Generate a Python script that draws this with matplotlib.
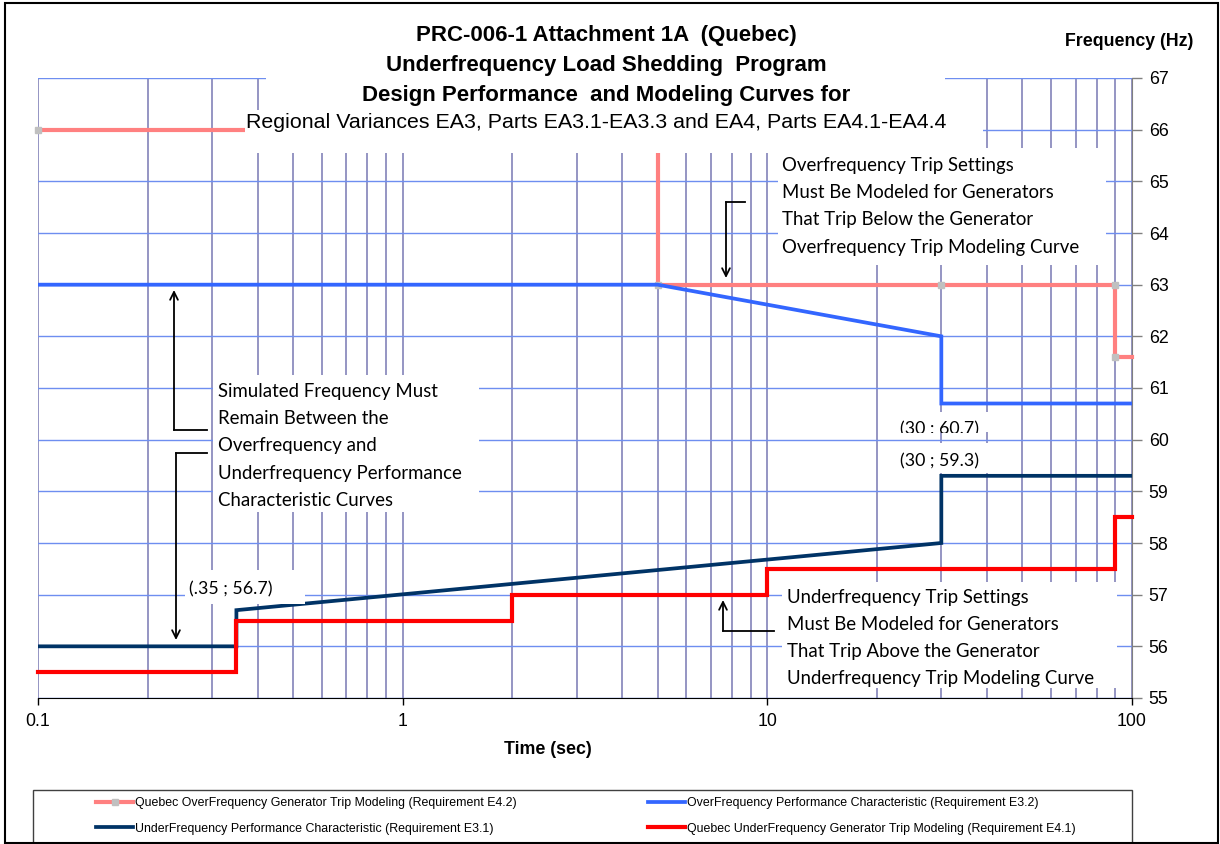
import matplotlib
matplotlib.use('Agg')
import matplotlib.pyplot as plt
from matplotlib.lines import Line2D
from matplotlib.patches import Rectangle, FancyArrowPatch
from matplotlib.transforms import Bbox, TransformedBbox

# series (time in sec, frequency in Hz)
of_trip_t = [0.1, 5, 5, 30, 90, 90, 100]
of_trip_f = [66, 66, 63, 63, 63, 61.6, 61.6]

of_perf_t = [0.1, 5, 30, 30, 100]
of_perf_f = [63, 63, 62, 60.7, 60.7]

uf_perf_t = [0.1, 0.35, 0.35, 30, 30, 100]
uf_perf_f = [56, 56, 56.7, 58, 59.3, 59.3]

uf_trip_t = [0.1, 0.35, 0.35, 2, 2, 10, 10, 90, 90, 100]
uf_trip_f = [55.5, 55.5, 56.5, 56.5, 57, 57, 57.5, 57.5, 58.5, 58.5]

x_ticks = [0.1, 1, 10, 100]
x_labels = ['0.1', '1', '10', '100']
y_ticks = list(range(55, 68))

labels = ['Quebec OverFrequency Generator Trip Modeling (Requirement E4.2)',
          'OverFrequency Performance Characteristic (Requirement E3.2)',
          'UnderFrequency Performance Characteristic (Requirement E3.1)',
          'Quebec UnderFrequency Generator Trip Modeling (Requirement E4.1)']

W, H = 1220, 844
ARIAL = 'Liberation Sans'
CALIBRI = 'Lato'


def fx(x):
    return x / W


def fy(y):
    return 1 - y / H


fig = plt.figure(figsize=(W / 100, H / 100), dpi=100)
ax = fig.add_axes([fx(38), fy(698), (1132 - 38) / W, (698 - 78) / H])

ax.plot(of_trip_t, of_trip_f, color='#FF8080', lw=3, marker='s', ms=4.5,
        mfc='#C0C0C0', mec='#C0C0C0', markevery=[0, 2, 3, 4, 5],
        solid_joinstyle='miter', clip_on=False, zorder=3)
ax.plot(of_perf_t, of_perf_f, color='#3366FF', lw=2.7, solid_joinstyle='miter', zorder=3)
ax.plot(uf_perf_t, uf_perf_f, color='#003366', lw=2.7, solid_joinstyle='miter', zorder=3)
ax.plot(uf_trip_t, uf_trip_f, color='#FF0000', lw=3, solid_joinstyle='miter',
        clip_on=False, zorder=3)

ax.set_xscale('log')
ax.set_xlim(0.1, 100)
ax.set_ylim(55, 67)
ax.set_xticks(x_ticks)
ax.set_xticklabels(x_labels, fontsize=12.8, fontfamily=ARIAL)
ax.set_yticks(y_ticks)
ax.set_yticklabels([str(v) for v in y_ticks], fontsize=12.8, fontfamily=ARIAL)
ax.yaxis.tick_right()
ax.tick_params(axis='y', direction='out', length=7, width=1, color='#808080', pad=5)
ax.tick_params(axis='x', which='major', direction='out', length=5, width=1, color='black', pad=6)
ax.tick_params(axis='x', which='minor', length=0)
ax.xaxis.set_minor_formatter(plt.NullFormatter())
ax.grid(axis='x', which='both', color='#8C8CBE', lw=1.3)
ax.grid(axis='y', which='major', color='#6E8EF0', lw=1.0)
ax.set_axisbelow(True)
for side in ['left', 'top']:
    ax.spines[side].set_visible(False)
ax.spines['right'].set_color('#808080')
ax.spines['bottom'].set_color('black')


def white_box(x0, y0, x1, y1):
    fig.patches.append(Rectangle((fx(x0), fy(y1)), (x1 - x0) / W, (y1 - y0) / H,
                                 transform=fig.transFigure, facecolor='white',
                                 edgecolor='none', zorder=1))


def label(s, x, y, clip=None, **kw):
    t = fig.text(fx(x), fy(y), s, va='center', zorder=3, **kw)
    if clip:
        x0, y0, x1, y1 = clip
        t.set_clip_box(TransformedBbox(Bbox.from_extents(fx(x0), fy(y1), fx(x1), fy(y0)),
                                       fig.transFigure))
        t.set_clip_on(True)
    return t


def elbow_arrow(x0, y0, xc, yc, x1, y1):
    fig.add_artist(Line2D([fx(x0), fx(xc)], [fy(y0), fy(yc)], color='black', lw=1.3,
                          transform=fig.transFigure, zorder=2))
    fig.add_artist(FancyArrowPatch((fx(xc), fy(yc)), (fx(x1), fy(y1)), arrowstyle='->',
                                   mutation_scale=14, lw=1.3, color='black',
                                   shrinkA=0, shrinkB=0, transform=fig.transFigure,
                                   zorder=2))


# title block (white background hides the grid behind it)
white_box(266, 8, 945, 110)
white_box(245, 110, 983, 153)
title_lines = ['PRC-006-1 Attachment 1A  (Quebec)',
               'Underfrequency Load Shedding  Program',
               'Design Performance  and Modeling Curves for']
for s, y in zip(title_lines, [36, 65, 95]):
    label(s, 606, y, ha='center', fontsize=16, fontweight='bold', fontfamily=ARIAL)
label('Regional Variances EA3, Parts EA3.1-EA3.3 and EA4, Parts EA4.1-EA4.4', 596, 123,
      ha='center', fontsize=15.4, fontfamily=ARIAL)

label('Frequency (Hz)', 1129, 42, ha='center', fontsize=12.8, fontweight='bold', fontfamily=ARIAL)
label('Time (sec)', 548, 750, ha='center', fontsize=12.8, fontweight='bold', fontfamily=ARIAL)

# note boxes
notes = [
    ((778, 148, 1106, 265), 782, 166, 27,
     ['Overfrequency Trip Settings', 'Must Be Modeled for Generators',
      'That Trip Below the Generator', 'Overfrequency Trip Modeling Curve']),
    ((213, 375, 479, 512), 218, 392, 27,
     ['Simulated Frequency Must', 'Remain Between the', 'Overfrequency and',
      'Underfrequency Performance', 'Characteristic Curves']),
    ((782, 582, 1117, 688), 787, 598, 26.7,
     ['Underfrequency Trip Settings', 'Must Be Modeled for Generators',
      'That Trip Above the Generator', 'Underfrequency Trip Modeling Curve']),
]
for box, x, y, step, lines in notes:
    white_box(*box)
    for i, s in enumerate(lines):
        label(s, x, y + i * step, ha='left', fontsize=13.4, fontfamily=CALIBRI)

elbow_arrow(745, 202, 726, 202, 726, 278)
elbow_arrow(207, 430, 174, 430, 174, 290)
elbow_arrow(207, 453, 176, 453, 176, 640)
elbow_arrow(774, 631, 723, 631, 723, 600)

# point labels
white_box(185, 570, 305, 604)
label('(.35 ; 56.7)', 231, 589, ha='center', fontsize=12.8, fontfamily=CALIBRI)
white_box(890, 412, 992, 432)
label('(30 ; 60.7)', 939, 429, clip=(890, 412, 992, 433), ha='center', fontsize=12.8,
      fontfamily=CALIBRI)
white_box(890, 443, 992, 473)
label('(30 ; 59.3)', 939, 461, ha='center', fontsize=12.8, fontfamily=CALIBRI)

# legend
handles = [Line2D([], [], color='#FF8080', lw=3, marker='s', ms=4.5, mfc='#C0C0C0', mec='#C0C0C0'),
           Line2D([], [], color='#3366FF', lw=2.7),
           Line2D([], [], color='#003366', lw=2.7),
           Line2D([], [], color='#FF0000', lw=3)]
fig.patches.append(Rectangle((fx(33), fy(843)), (1132 - 33) / W, (843 - 790) / H,
                             transform=fig.transFigure, facecolor='white',
                             edgecolor='#404040', lw=1, zorder=4))
for idx, x in [([0, 2], 96), ([1, 3], 648)]:
    fig.legend([handles[i] for i in idx], [labels[i] for i in idx], loc='center left',
               bbox_to_anchor=(fx(x), fy(816)), frameon=False, borderpad=0,
               borderaxespad=0, handlelength=3.0, handletextpad=0.15, labelspacing=1.1,
               prop={'family': ARIAL, 'size': 8.9})

# outer border
fig.patches.append(Rectangle((fx(5), fy(843)), (1218 - 5) / W, (843 - 3) / H,
                             transform=fig.transFigure, facecolor='none',
                             edgecolor='black', lw=1.5, zorder=6))

fig.savefig('out.png', dpi=100)
